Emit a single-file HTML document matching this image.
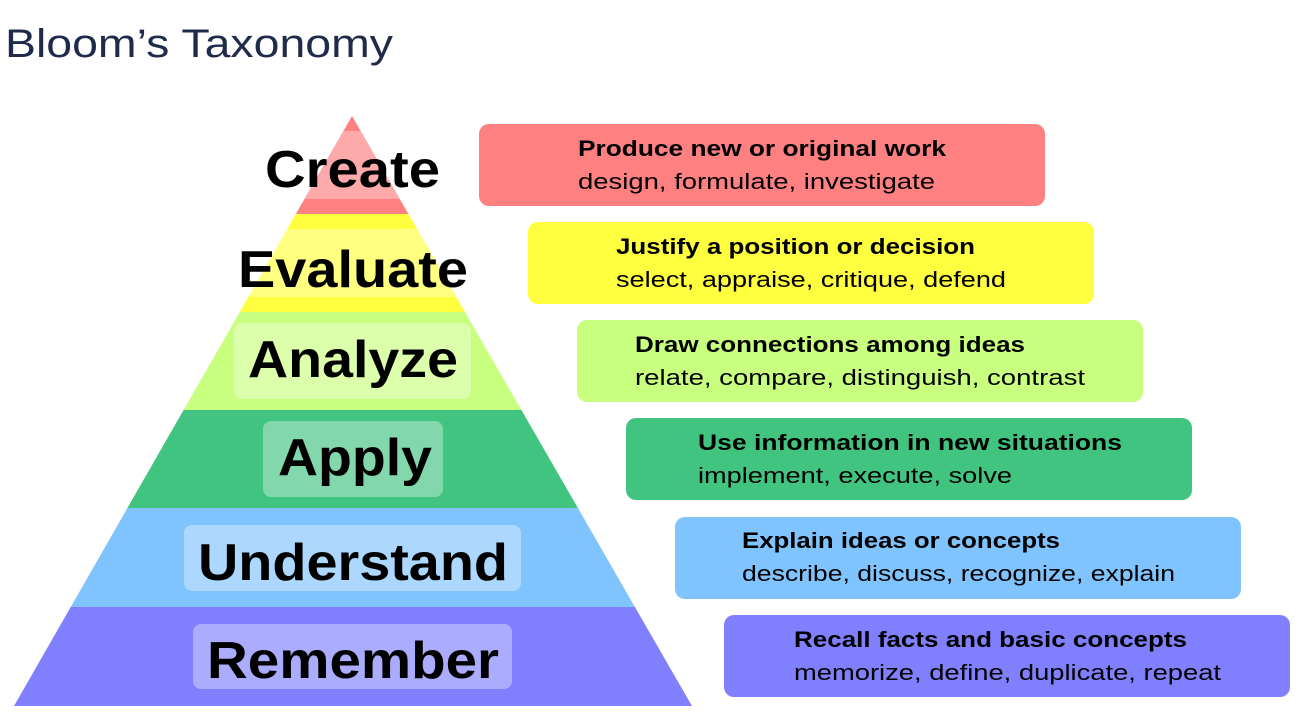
<!DOCTYPE html>
<html><head><meta charset="utf-8"><style>
html,body{margin:0;padding:0;background:#fff;width:1316px;height:723px;overflow:hidden}
svg{display:block;font-family:"Liberation Sans",sans-serif}
</style></head><body>
<svg width="1316" height="723" viewBox="0 0 1316 723">
<text x="5" y="57" font-size="40" fill="#1f2b4a" textLength="388" lengthAdjust="spacingAndGlyphs">Bloom’s Taxonomy</text>
<defs><clipPath id="pyr"><polygon points="352,116 692,706 14,706"/></clipPath></defs>
<g clip-path="url(#pyr)">
<rect x="0" y="116" width="720" height="99" fill="#ff8080"/>
<rect x="0" y="131" width="720" height="68" fill="#ffaaaa"/>
<rect x="0" y="214" width="720" height="99" fill="#ffff40"/>
<rect x="0" y="229" width="720" height="68" fill="#ffff80"/>
<rect x="0" y="312" width="720" height="99" fill="#c9ff7f"/>
<rect x="0" y="410" width="720" height="99" fill="#40c480"/>
<rect x="0" y="508" width="720" height="100" fill="#80c4ff"/>
<rect x="0" y="607" width="720" height="100" fill="#8080ff"/>
</g>
<rect x="234" y="323" width="237" height="76" rx="8" fill="#fff" fill-opacity="0.35"/>
<rect x="263" y="421" width="180" height="76" rx="8" fill="#fff" fill-opacity="0.35"/>
<rect x="184" y="525" width="337" height="66" rx="8" fill="#fff" fill-opacity="0.35"/>
<rect x="193" y="624" width="319" height="65" rx="8" fill="#fff" fill-opacity="0.35"/>
<g font-weight="bold" font-size="52" fill="#000" lengthAdjust="spacingAndGlyphs">
<text x="265" y="187" textLength="175" lengthAdjust="spacingAndGlyphs">Create</text>
<text x="238" y="287" textLength="230" lengthAdjust="spacingAndGlyphs">Evaluate</text>
<text x="248" y="377" textLength="210" lengthAdjust="spacingAndGlyphs">Analyze</text>
<text x="278" y="475" textLength="154" lengthAdjust="spacingAndGlyphs">Apply</text>
<text x="198" y="580" textLength="310" lengthAdjust="spacingAndGlyphs">Understand</text>
<text x="207" y="678" textLength="292" lengthAdjust="spacingAndGlyphs">Remember</text>
</g>
<g font-size="22" fill="#000">
<rect x="479" y="124" width="566" height="82" rx="10" fill="#ff8080"/>
<text x="578" y="156" font-weight="bold" textLength="368" lengthAdjust="spacingAndGlyphs">Produce new or original work</text>
<text x="578" y="189" textLength="357" lengthAdjust="spacingAndGlyphs">design, formulate, investigate</text>
<rect x="528" y="222" width="566" height="82" rx="10" fill="#ffff40"/>
<text x="616" y="254" font-weight="bold" textLength="359" lengthAdjust="spacingAndGlyphs">Justify a position or decision</text>
<text x="616" y="287" textLength="390" lengthAdjust="spacingAndGlyphs">select, appraise, critique, defend</text>
<rect x="577" y="320" width="566" height="82" rx="10" fill="#c9ff7f"/>
<text x="635" y="352" font-weight="bold" textLength="390" lengthAdjust="spacingAndGlyphs">Draw connections among ideas</text>
<text x="635" y="385" textLength="450" lengthAdjust="spacingAndGlyphs">relate, compare, distinguish, contrast</text>
<rect x="626" y="418" width="566" height="82" rx="10" fill="#40c480"/>
<text x="698" y="450" font-weight="bold" textLength="424" lengthAdjust="spacingAndGlyphs">Use information in new situations</text>
<text x="698" y="483" textLength="314" lengthAdjust="spacingAndGlyphs">implement, execute, solve</text>
<rect x="675" y="517" width="566" height="82" rx="10" fill="#80c4ff"/>
<text x="742" y="548" font-weight="bold" textLength="318" lengthAdjust="spacingAndGlyphs">Explain ideas or concepts</text>
<text x="742" y="581" textLength="433" lengthAdjust="spacingAndGlyphs">describe, discuss, recognize, explain</text>
<rect x="724" y="615" width="566" height="82" rx="10" fill="#8080ff"/>
<text x="794" y="647" font-weight="bold" textLength="393" lengthAdjust="spacingAndGlyphs">Recall facts and basic concepts</text>
<text x="794" y="680" textLength="427" lengthAdjust="spacingAndGlyphs">memorize, define, duplicate, repeat</text>
</g>
</svg>
</body></html>
